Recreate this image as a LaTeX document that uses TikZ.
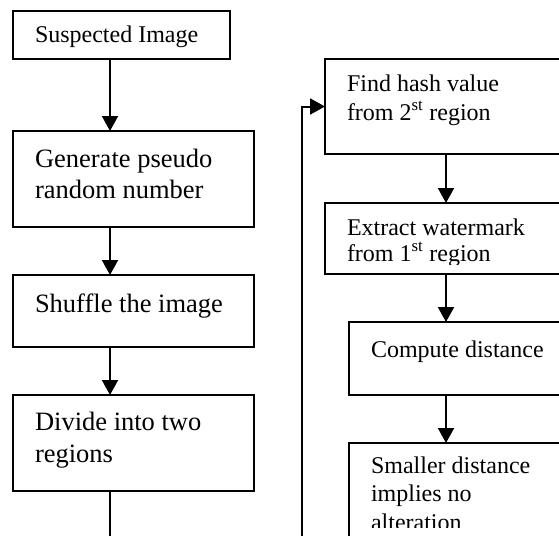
\documentclass[tikz,border=0pt]{standalone}
\usepackage{fontspec}
\setmainfont{Liberation Serif}
\usetikzlibrary{arrows.meta}
\tikzset{
  box/.style={draw, line width=2pt, rectangle, inner sep=0pt, outer sep=0pt, anchor=north west},
  txt/.style={anchor=base west, inner sep=0pt, outer sep=0pt},
  big/.style={font=\fontsize{26.5}{31}\selectfont},
  small/.style={font=\fontsize{24}{28}\selectfont},
  arr/.style={line width=2pt, -{Triangle[length=15pt,width=16pt]}},
  ln/.style={line width=2pt}
}
\begin{document}
\begin{tikzpicture}[x=1pt,y=-1pt]
\useasboundingbox (0,0) rectangle (559,535);
\clip (0,0) rectangle (559,535);
% left column boxes
\node[box, minimum width=217pt, minimum height=48pt] (s1) at (13,11) {};
\node[box, minimum width=241pt, minimum height=96pt] (s2) at (13,131) {};
\node[box, minimum width=241pt, minimum height=72pt] (s3) at (13,275) {};
\node[box, minimum width=241pt, minimum height=96pt] (s4) at (13,395) {};
% right column boxes
\node[box, minimum width=275pt, minimum height=95pt] (r1) at (325,59) {};
\node[box, minimum width=275pt, minimum height=71pt] (r2) at (325,203) {};
\node[box, minimum width=251pt, minimum height=73pt] (r3) at (349,322) {};
\node[box, minimum width=251pt, minimum height=157pt] (r4) at (349,443) {};
% texts
\node[txt, small] (t1) at (35,43) {Suspected Image};
\node[txt, big] (t2a) at (35,167) {Generate pseudo};
\node[txt, big] (t2b) at (35,198) {random number};
\node[txt, big] (t3) at (35,312) {Shuffle the image};
\node[txt, big] (t4a) at (35,430) {Divide into two};
\node[txt, big] (t4b) at (35,462) {regions};
\node[txt, small] (u1a) at (347,92) {Find hash value};
\node[txt, small] (u1b) at (347,120) {from 2\textsuperscript{st} region};
\begin{scope}
\clip (325,203) rectangle (600,264);
\node[txt, small] (u2a) at (347,235) {Extract watermark};
\node[txt, small] (u2b) at (347,261) {from 1\textsuperscript{st} region};
\end{scope}
\node[txt, small] (u3) at (371,357) {Compute distance};
\begin{scope}
\clip (349,443) rectangle (600,527);
\node[txt, small] (u4a) at (371,473) {Smaller distance};
\node[txt, small] (u4b) at (371,501.5) {implies no};
\node[txt, small] (u4c) at (371,530) {alteration};
\end{scope}
% connector helpers
\coordinate (xl) at (110,0);
\coordinate (xr) at (446,0);
\coordinate (bl) at (110,545);
\coordinate (fb) at (302,545);
% arrows left
\draw[arr] (s1.south -| xl) -- (s2.north -| xl);
\draw[arr] (s2.south -| xl) -- (s3.north -| xl);
\draw[arr] (s3.south -| xl) -- (s4.north -| xl);
\draw[ln] (s4.south -| xl) -- (bl);
% arrows right
\draw[arr] (r1.south -| xr) -- (r2.north -| xr);
\draw[arr] (r2.south -| xr) -- (r3.north -| xr);
\draw[arr] (r3.south -| xr) -- (r4.north -| xr);
% feedback
\draw[arr] (fb) |- (r1.west);
\end{tikzpicture}
\end{document}
